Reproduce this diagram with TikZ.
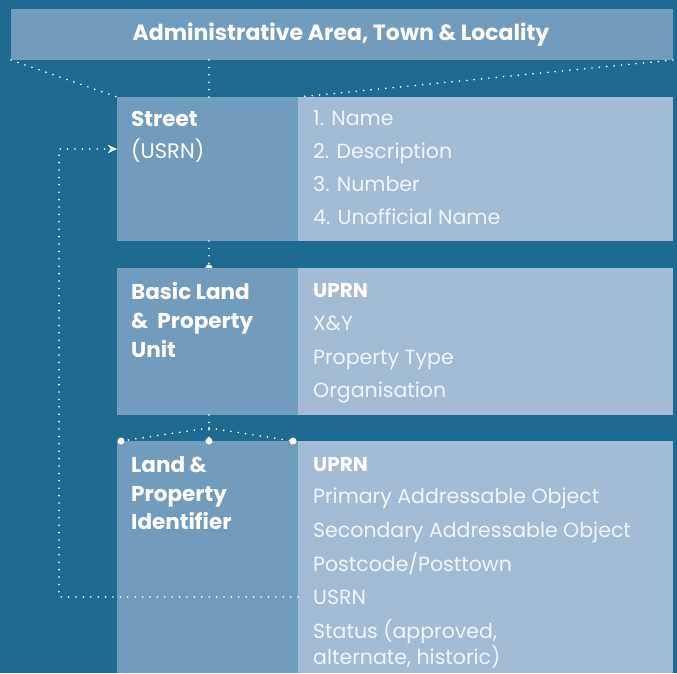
\documentclass[tikz,border=0pt]{standalone}
\usepackage{fontspec}
\setmainfont{Poppins}
\usetikzlibrary{arrows.meta}
\definecolor{bgblue}{RGB}{31,106,144}
\definecolor{midblue}{RGB}{114,156,189}
\definecolor{lightblue}{RGB}{164,187,212}
\definecolor{paletext}{RGB}{240,244,249}
\tikzset{
  box/.style={rectangle, inner sep=0pt, outer sep=0pt, anchor=north west},
  leftbox/.style={box, fill=midblue, minimum width=181pt},
  rightbox/.style={box, fill=lightblue, minimum width=375pt},
  lefttxt/.style={anchor=base west, inner sep=0pt, text=white, font=\fontsize{21}{24}\selectfont},
  leftbold/.style={lefttxt, font=\bfseries\fontsize{21.5}{24}\selectfont},
  righttxt/.style={anchor=base west, inner sep=0pt, text=paletext, font=\fontsize{20.5}{24}\selectfont},
  rightbold/.style={righttxt, text=white, font=\bfseries\fontsize{20}{24}\selectfont},
  dotline/.style={white, line width=1.8pt, line cap=round, dash pattern=on 0pt off 7.4pt},
  enddot/.style={circle, fill=white, inner sep=0pt, minimum size=7pt},
}
\begin{document}
\begin{tikzpicture}[x=1pt,y=1pt]
\fill[bgblue] (0,0) rectangle (677,-673);
\useasboundingbox (0,0) rectangle (677,-673);
% top box
\node[box, fill=midblue, minimum width=662pt, minimum height=51pt] (admin) at (11,-9) {};
\node[anchor=base, inner sep=0pt, text=white, font=\bfseries\fontsize{22}{24}\selectfont] (admintxt) at (341,-40) {Administrative Area, Town \& Locality};
\coordinate (aL) at (11,-60);
\coordinate (aM) at (209,-60);
\coordinate (aR) at (673,-60);
% street
\node[leftbox, minimum height=144pt] (streetL) at (117,-97) {};
\node[rightbox, minimum height=144pt] (streetR) at (298,-97) {};
\draw[dotline] (aL) -- (streetL.north west);
\draw[dotline] (aM) -- (aM |- streetL.north);
\draw[dotline] (aR) -- (streetR.north west);
% blpu dot (half hidden)
\coordinate (bTop) at (209,-268);
\draw[dotline] (209,-241) -- (bTop);
\fill[white] (bTop) circle (3.5pt);
\node[leftbox, minimum height=147pt] (blpuL) at (117,-268) {};
\node[rightbox, minimum height=147pt] (blpuR) at (298,-268) {};
% lpi
\node[leftbox, minimum height=232pt] (lpiL) at (117,-441) {};
\node[rightbox, minimum height=232pt] (lpiR) at (298,-441) {};
\coordinate (fork) at (209,-428);
\node[enddot] (d1) at (121,-441) {};
\node[enddot] (d2) at (209,-441) {};
\node[enddot] (d3) at (293,-441) {};
\draw[dotline] (209,-415) -- (d2.center);
\draw[dotline] (fork) -- (d1.center);
\draw[dotline] (fork) -- (d3.center);
% usrn loop
\coordinate (loopB) at (59,-597);
\coordinate (loopT) at (59,-149);
\draw[dotline] (lpiR.west |- loopB) -- (loopB) -- (loopT) -- ([xshift=-8pt]streetL.west |- loopT);
\draw[white, -{Stealth[length=9pt,width=8pt]}, line width=0.01pt] ([xshift=-9pt]streetL.west |- loopT) -- (streetL.west |- loopT);
% left texts
\node[leftbold] (t1) at (131,-126) {Street};
\node[lefttxt] (t2) at (131,-158) {(USRN)};
\node[leftbold] (t3) at (131,-299) {Basic Land};
\node[leftbold] (t4) at (131,-328) {\&\ \ Property};
\node[leftbold] (t5) at (131,-357) {Unit};
\node[leftbold] (t6) at (131,-472) {Land \&};
\node[leftbold] (t7) at (131,-501) {Property};
\node[leftbold] (t8) at (131,-529) {Identifier};
% right texts
\node[righttxt] (r1) at (313,-125) {1. Name};
\node[righttxt] (r2) at (313,-158) {2. Description};
\node[righttxt] (r3) at (313,-191) {3. Number};
\node[righttxt] (r4) at (313,-224) {4. Unofficial Name};
\node[rightbold] (r5) at (313,-297) {UPRN};
\node[righttxt] (r6) at (313,-330) {X\&Y};
\node[righttxt] (r7) at (313,-364) {Property Type};
\node[righttxt] (r8) at (313,-397) {Organisation};
\node[rightbold] (r9) at (313,-471) {UPRN};
\node[righttxt] (r10) at (313,-503) {Primary Addressable Object};
\node[righttxt] (r11) at (313,-537) {Secondary Addressable Object};
\node[righttxt] (r12) at (313,-571) {Postcode/Posttown};
\node[righttxt] (r13) at (313,-604) {USRN};
\node[righttxt] (r14) at (313,-638) {Status (approved,};
\node[righttxt] (r15) at (313,-664) {alternate, historic)};
\end{tikzpicture}
\end{document}
